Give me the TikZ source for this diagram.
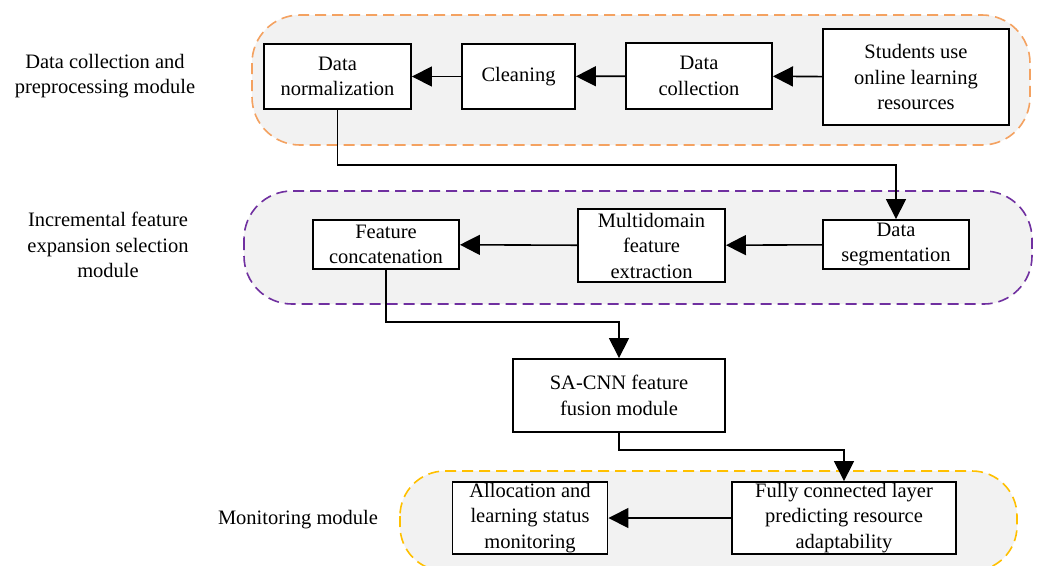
\documentclass[tikz,border=0pt]{standalone}
\usepackage{fontspec}
\setmainfont{Liberation Serif}
\usetikzlibrary{arrows.meta}
\definecolor{grpfill}{HTML}{F2F2F2}
\definecolor{grporange}{HTML}{F4A261}
\definecolor{grppurple}{HTML}{7030A0}
\definecolor{grpyellow}{HTML}{FFC000}
\tikzset{
  txt/.style={font=\fontsize{20.5pt}{25.5pt}\selectfont, align=center},
  stepbox/.style={txt, draw=black, line width=1.9pt, fill=white, inner sep=0pt},
  group/.style={fill=grpfill, dash pattern=on 11pt off 6pt, line width=1.6pt, rounded corners=48pt},
  arr/.style={line width=1.6pt, -{Triangle[length=20pt,width=20pt]}},
  lbl/.style={txt, inner sep=0pt}
}
\begin{document}
\begin{tikzpicture}[x=1pt,y=-1pt]
\useasboundingbox (0,0) rectangle (1040,565);
\fill[white] (0,0) rectangle (1040,565);

% module backgrounds
\draw[group, draw=grporange] (252,15) rectangle (1030,145);
\draw[group, draw=grppurple] (244,191) rectangle (1032,304);
\draw[group, draw=grpyellow, rounded corners=45pt] (400,471) rectangle (1017,571);

% module labels
\node[lbl] (l1) at (105,76) {Data collection and\\preprocessing module};
\node[lbl] (l2) at (108,245) {Incremental feature\\expansion selection\\module};
\node[lbl] (l3) at (298,520) {Monitoring module};

% data collection and preprocessing
\node[stepbox, minimum width=147pt, minimum height=65pt] (norm) at (337.5,76.5) {Data\\normalization};
\node[stepbox, minimum width=113pt, minimum height=65pt] (clean) at (518.5,76.5) {Cleaning};
\node[stepbox, minimum width=146pt, minimum height=66pt] (coll) at (699,76) {Data\\collection};
\node[stepbox, minimum width=186pt, minimum height=96pt] (stud) at (916,77) {Students use\\online learning\\resources};

% incremental feature expansion selection
\node[stepbox, minimum width=146pt, minimum height=49pt] (seg) at (896,244.5) {Data\\segmentation};
\node[stepbox, minimum width=147pt, minimum height=73pt] (multi) at (651.5,245.5) {Multidomain\\feature\\extraction};
\node[stepbox, minimum width=146pt, minimum height=49pt] (concat) at (386,244.5) {Feature\\concatenation};

% fusion
\node[stepbox, minimum width=212pt, minimum height=73pt] (sacnn) at (619,395.5) {SA-CNN feature\\fusion module};

% monitoring
\node[stepbox, minimum width=224pt, minimum height=72pt] (fully) at (844,518) {Fully connected layer\\predicting resource\\adaptability};
\node[stepbox, minimum width=155pt, minimum height=72pt] (alloc) at (530,518) {Allocation and\\learning status\\monitoring};

% routing levels
\coordinate (j1) at (0,165);
\coordinate (j2) at (0,322);
\coordinate (j3) at (0,450);

% connectors
\draw[arr] (stud) -- (coll);
\draw[arr] (coll) -- (clean);
\draw[arr] (clean) -- (norm);
\draw[arr] (norm.south) -- (norm.south |- j1) -| (seg.north);
\draw[arr] (seg) -- (multi);
\draw[arr] (multi) -- (concat);
\draw[arr] (concat.south) -- (concat.south |- j2) -| (sacnn.north);
\draw[arr] (sacnn.south) -- (sacnn.south |- j3) -| (fully.north);
\draw[arr] (fully) -- (alloc);
\end{tikzpicture}
\end{document}
